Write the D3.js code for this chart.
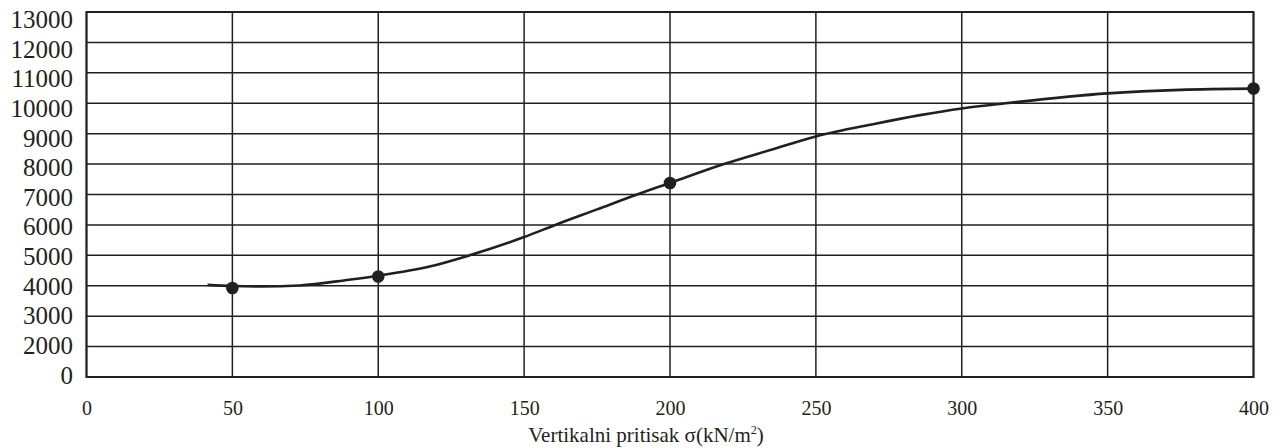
<!DOCTYPE html>
<html>
<head>
<meta charset="utf-8">
<script src="https://cdn.jsdelivr.net/npm/d3@7"></script>
<style>
  html, body { margin: 0; padding: 0; background: #fff; }
  svg { display: block; }
  text { font-family: "Liberation Serif", "Times New Roman", serif; fill: #231f20; }
</style>
</head>
<body>
<svg id="chart" width="1283" height="448"></svg>
<script>
// ---- data ----
const xTicks = [0, 50, 100, 150, 200, 250, 300, 350, 400];
const yTickValues = [1000, 2000, 3000, 4000, 5000, 6000, 7000, 8000, 9000, 10000, 11000, 12000, 13000];
const yTickLabels = ["0", "2000", "3000", "4000", "5000", "6000", "7000", "8000", "9000", "10000", "11000", "12000", "13000"];
const pointX = [50, 100, 200, 400];
const pointY = [3925, 4306, 7380, 10485];
const curveX = [41.5, 50, 60, 73, 90, 100, 117.6, 131.3, 150, 160.7, 175, 188.7, 200, 218.5, 235, 250, 270, 285.7, 300, 315, 350, 375, 400];
const curveY = [4030, 3990, 3975, 4010, 4200, 4330, 4630, 5000, 5600, 6000, 6510, 7000, 7380, 8000, 8480, 8910, 9320, 9610, 9830, 10000, 10325, 10440, 10480];
const xTitle = "Vertikalni pritisak σ(kN/m";

// ---- layout ----
const ink = "#231f20";
const serif = '"Liberation Serif", "Times New Roman", serif';
const svg = d3.select("#chart");
const x = d3.scaleLinear().domain([0, 400]).range([86.5, 1253.5]);
const y = d3.scaleLinear().domain([1000, 13000]).range([377, 12]);
const yLab = d3.scaleLinear().domain([1000, 13000]).range([375, 19.5]);

// grid
const grid = svg.append("g");
grid.selectAll("line.h").data(yTickValues).join("line")
  .attr("x1", x(0)).attr("x2", x(400))
  .attr("y1", d => y(d)).attr("y2", d => y(d))
  .attr("stroke", ink).attr("stroke-width", 1.5);
grid.selectAll("line.v").data(xTicks).join("line")
  .attr("y1", y(1000)).attr("y2", y(13000))
  .attr("x1", d => x(d)).attr("x2", d => x(d))
  .attr("stroke", ink).attr("stroke-width", 1.5);
svg.append("rect")
  .attr("x", x(0)).attr("y", y(13000))
  .attr("width", x(400) - x(0)).attr("height", y(1000) - y(13000))
  .attr("fill", "none").attr("stroke", ink).attr("stroke-width", 2);

// x axis labels
const xa = svg.append("g").attr("transform", `translate(0,${y(1000)})`)
  .call(d3.axisBottom(x).tickValues(xTicks).tickSize(0).tickPadding(24).tickFormat(d3.format("d")))
  .attr("font-family", serif);
xa.select(".domain").remove();
xa.selectAll("text").attr("font-size", 20).attr("fill", ink).style("font-family", serif);

// y axis labels
const ya = svg.append("g").attr("transform", `translate(73,0)`)
  .call(d3.axisLeft(yLab).tickValues(yTickValues).tickSize(0).tickPadding(0)
    .tickFormat((d, i) => yTickLabels[i]))
  .attr("font-family", serif);
ya.select(".domain").remove();
ya.selectAll("text").attr("font-size", 25).attr("fill", ink).style("font-family", serif);

// axis title
const t = svg.append("text").attr("x", 646).attr("y", 442)
  .attr("text-anchor", "middle").attr("font-size", 21).style("font-family", serif);
t.append("tspan").text(xTitle);
t.append("tspan").attr("font-size", 12).attr("dy", -8).text("2");
t.append("tspan").attr("dy", 8).text(")");

// curve
const line = d3.line().x((d, i) => x(curveX[i])).y((d, i) => y(curveY[i])).curve(d3.curveMonotoneX);
svg.append("path").datum(curveX).attr("d", line)
  .attr("fill", "none").attr("stroke", ink).attr("stroke-width", 2.6);

// points
svg.selectAll("circle.pt").data(pointX).join("circle")
  .attr("cx", d => x(d)).attr("cy", (d, i) => y(pointY[i]))
  .attr("r", 6.3).attr("fill", ink);
</script>
</body>
</html>
